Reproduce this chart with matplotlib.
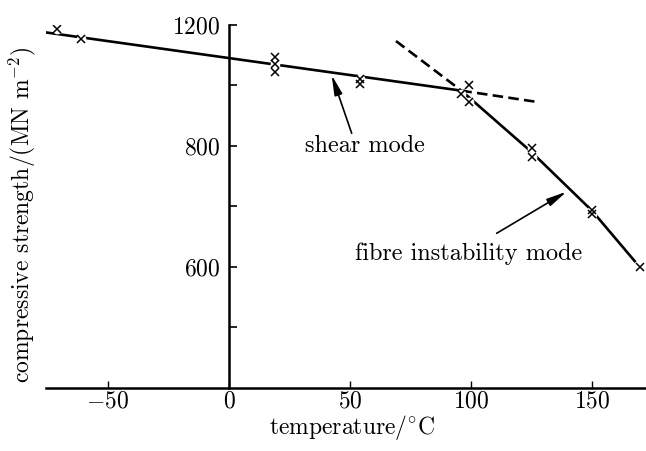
import numpy as np
import matplotlib
matplotlib.use("Agg")
from matplotlib import pyplot as plt

plt.rcParams['font.family'] = ['cmr10', 'DejaVu Serif']
plt.rcParams['mathtext.fontset'] = 'cm'
plt.rcParams['axes.unicode_minus'] = False

# measured points (temperature / degC, compressive strength / MN m^-2)
temp_pts = [-71, -61, 19, 19, 19, 54, 54, 99, 96, 99, 125, 125, 150, 150, 170]
strength_pts = [1186, 1153, 1095, 1071, 1044, 1020, 1005, 1002, 972, 946, 797, 782, 695, 688, 600]

# fitted lines
shear_t = [-77, 96]
shear_s = [1177, 983]
shear_ext_t = [96, 127]
shear_ext_s = [983, 946]
fibre_ext_t = [69, 96]
fibre_ext_s = [1147, 983]
fibre_t = [96, 125, 150, 168]
fibre_s = [983, 790, 693, 608]

xticks = [-50, 0, 50, 100, 150]
xticklabels = ['$-50$', '$0$', '$50$', '$100$', '$150$']
yticks_major = [600, 800, 1200]
yticks_minor = [500, 700, 1000]


# the printed axis is compressed above 800
def fwd(v):
    v = np.asarray(v, dtype=float)
    return np.where(v <= 800, v, 800 + (v - 800) / 2.0)


def inv(p):
    p = np.asarray(p, dtype=float)
    return np.where(p <= 800, p, 800 + 2.0 * (p - 800))


fig = plt.figure(figsize=(6.46, 4.51), dpi=100)
ax = fig.add_axes([46 / 646, 1 - 388 / 451, 600 / 646, (388 - 25) / 451])
ax.set_yscale('function', functions=(fwd, inv))
ax.set_xlim(-75.6, 172.3)
ax.set_ylim(400, 1200)

lw = 1.9
ax.plot(shear_t, shear_s, color='black', lw=lw, zorder=2, solid_capstyle='butt')
ax.plot(fibre_t, fibre_s, color='black', lw=lw, zorder=2, solid_capstyle='butt')
ax.plot(shear_ext_t, shear_ext_s, color='black', lw=lw, dashes=(4, 2), zorder=2)
ax.plot(fibre_ext_t, fibre_ext_s, color='black', lw=lw, dashes=(4, 2), zorder=2)

# white gap round each cross, then the crosses
ax.plot(temp_pts, strength_pts, ls='none', marker='o', ms=7, mfc='white', mec='none', zorder=3)
ax.plot(temp_pts, strength_pts, ls='none', marker='x', ms=6, mew=1.1, color='black', zorder=4)

for s in ['top', 'right']:
    ax.spines[s].set_visible(False)
ax.spines['left'].set_position(('data', 0))
ax.spines['left'].set_linewidth(1.8)
ax.spines['bottom'].set_linewidth(1.8)

ax.set_xticks(xticks)
ax.set_xticklabels(xticklabels)
ax.set_yticks(yticks_major)
ax.set_yticklabels(['$600$', '$800$', '$1200$'])
ax.set_yticks(yticks_minor, minor=True)
ax.tick_params(axis='x', direction='in', length=5, width=1, labelsize=17, pad=2)
ax.tick_params(axis='y', which='both', direction='in', length=6, width=1.2, labelsize=17, pad=6)
ax.tick_params(axis='x', which='minor', length=0)

arrow = dict(arrowstyle='-|>,head_length=0.75,head_width=0.15', color='black', lw=1.2,
             mutation_scale=16, shrinkA=0, shrinkB=0)
ax.text(31.4, 790, 'shear mode', fontsize=17.5, ha='left', va='baseline')
ax.annotate('', xy=(42.4, 1035), xytext=(50.7, 842), arrowprops=arrow)
ax.text(52.1, 611.6, 'fibre instability mode', fontsize=17.5, ha='left', va='baseline')
ax.annotate('', xy=(139.5, 724.5), xytext=(110.6, 655.7), arrowprops=arrow)

fig.text(22 / 646, 1 - 215 / 451, 'compressive strength/(MN m$^{-2}$)', rotation=90,
         fontsize=17, ha='center', va='center')
fig.text(352 / 646, 1 - 428 / 451, 'temperature/$^{\\circ}$C', fontsize=17, ha='center', va='center')

fig.savefig('out.png', dpi=100)
